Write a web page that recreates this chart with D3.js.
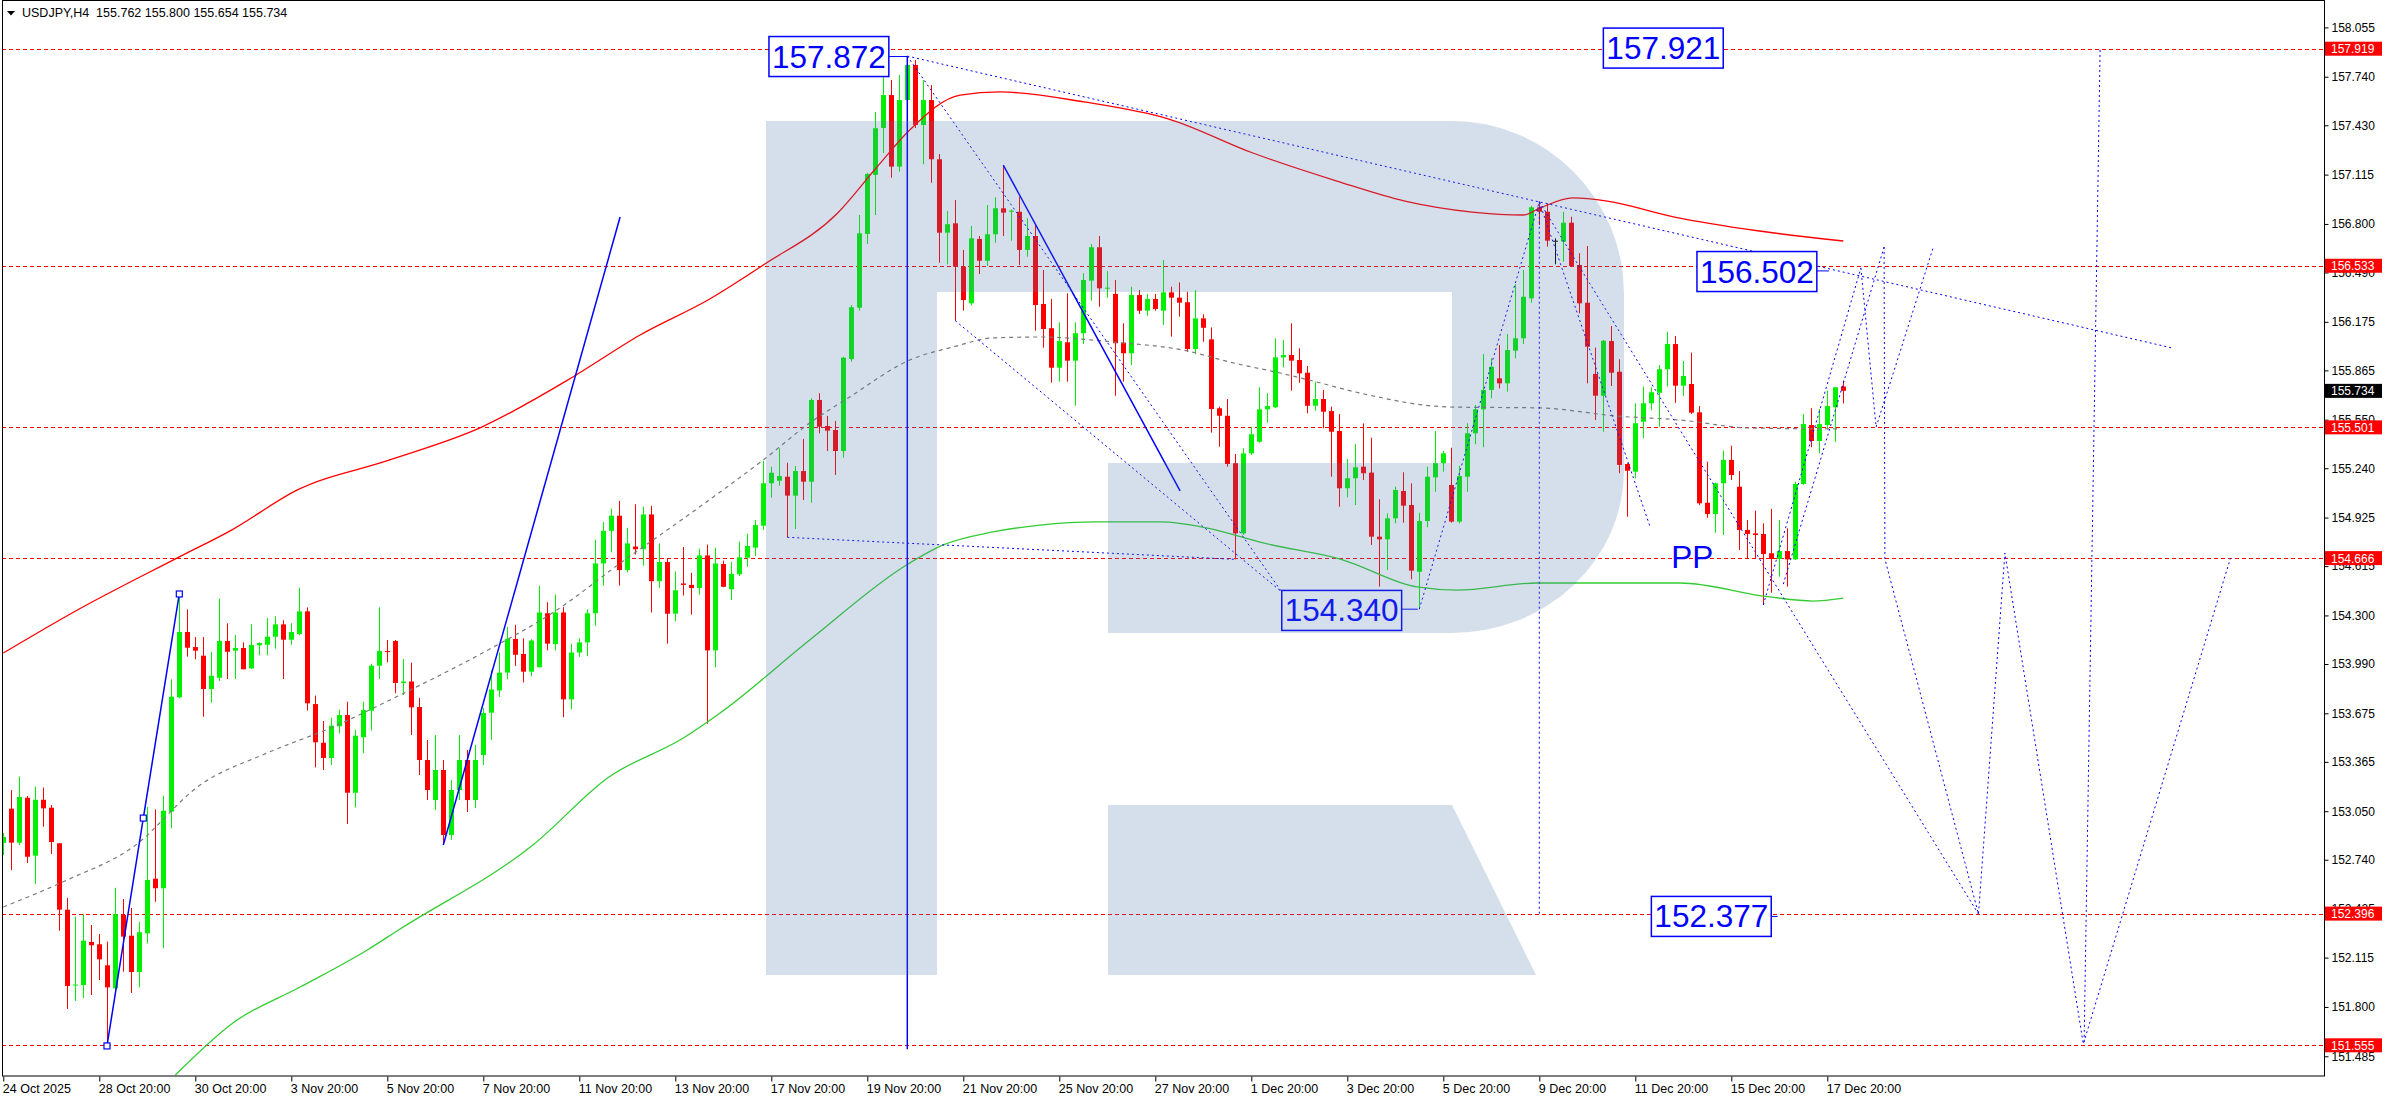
<!DOCTYPE html>
<html lang="en">
<head>
<meta charset="UTF-8">
<title>USDJPY,H4</title>
<script src="https://cdn.jsdelivr.net/npm/d3@7"></script>
<style>
  body { margin: 0; background: #fff; }
  text { font-family: "Liberation Sans", Arial, sans-serif; }
</style>
</head>
<body>
<script>
// OHLC of the H4 bars, oldest first (24 Oct 20:00 ... 18 Dec 04:00)
const opens = [152.847,153.066,152.849,153.136,152.766,153.123,153.072,152.845,152.421,151.937,151.940,152.215,152.200,152.066,151.919,152.387,152.255,152.023,152.270,152.619,
152.558,153.047,153.777,154.194,154.098,154.043,153.830,153.902,154.137,154.075,154.092,153.962,154.109,154.113,154.164,154.243,154.145,154.181,154.326,153.734,
153.487,153.390,153.592,153.664,153.168,153.522,153.692,153.979,154.073,154.137,153.869,153.878,153.715,153.377,153.121,153.313,152.898,153.185,153.377,153.121,
153.409,153.679,153.821,153.935,154.150,154.054,153.941,153.969,154.314,154.117,154.319,153.764,154.063,154.128,154.314,154.632,154.840,154.937,154.590,154.740,
154.723,154.945,154.519,154.641,154.311,154.504,154.495,154.475,154.683,154.077,154.628,154.467,154.563,154.669,154.733,154.873,155.144,155.160,155.186,155.065,
155.222,155.154,155.676,155.510,155.484,155.350,155.937,156.265,156.736,157.113,157.413,157.623,157.166,157.591,157.815,157.432,157.591,157.213,156.744,156.804,
156.527,156.293,156.704,156.565,156.734,156.900,156.878,156.878,156.634,156.723,156.289,156.134,155.882,156.044,155.927,156.102,156.438,156.651,156.387,156.353,
156.042,155.974,156.346,156.246,156.321,156.246,156.363,156.329,156.300,156.001,156.197,156.063,155.623,155.575,155.272,154.824,155.335,155.409,155.616,155.629,
155.948,155.963,155.931,155.850,155.639,155.682,155.605,155.478,155.112,155.176,155.250,155.212,154.803,154.786,154.920,155.095,155.005,154.579,154.903,155.182,
155.272,155.133,154.899,155.186,155.463,155.616,155.740,155.814,155.782,155.991,156.070,156.325,156.906,156.878,156.693,156.687,156.808,156.538,156.297,155.842,
155.703,156.052,155.856,155.267,155.218,155.537,155.655,155.722,155.872,156.033,155.767,155.778,155.597,155.020,154.948,155.144,155.293,155.122,154.846,154.824,
154.820,154.697,154.660,154.711,154.658,155.139,155.516,155.414,155.516,155.629,155.762];
const highs = [152.911,153.185,153.270,153.147,153.206,153.200,153.089,152.847,152.496,152.376,152.393,152.323,152.266,152.217,152.561,152.489,152.432,152.344,153.077,153.062,
153.149,153.892,154.437,154.339,154.162,154.162,154.067,154.407,154.250,154.175,154.128,154.243,154.128,154.284,154.294,154.269,154.250,154.477,154.352,153.788,
153.626,153.645,153.696,153.749,153.570,153.747,153.992,154.352,154.143,154.143,154.021,153.998,153.773,153.505,153.537,153.377,153.249,153.537,153.441,153.473,
153.709,153.949,154.063,154.226,154.240,154.154,154.148,154.490,154.384,154.433,154.353,154.120,154.154,154.339,154.783,154.897,154.982,155.031,154.860,155.010,
154.994,155.000,154.760,154.666,154.581,154.737,154.572,154.726,154.752,154.733,154.650,154.643,154.771,154.820,154.909,155.288,155.250,155.367,155.275,155.254,
155.427,155.687,155.719,155.574,155.542,155.952,156.282,156.857,157.127,157.515,157.751,157.719,157.751,157.872,157.847,157.719,157.687,157.247,156.883,156.953,
156.634,156.787,156.723,156.921,156.970,157.176,156.893,156.974,156.836,156.793,156.506,156.321,156.172,156.357,156.172,156.485,156.672,156.723,156.499,156.442,
156.166,156.399,156.378,156.351,156.353,156.570,156.399,156.427,156.367,156.378,156.223,156.140,155.633,155.682,155.331,155.367,155.505,155.757,155.719,156.070,
156.059,156.166,156.006,155.893,155.793,155.740,155.633,155.586,155.299,155.395,155.527,155.435,155.042,154.952,155.122,155.214,155.144,154.956,155.250,155.478,
155.350,155.371,155.256,155.527,155.644,155.969,155.942,156.027,156.097,156.415,156.506,156.916,156.942,156.932,156.708,156.878,156.846,156.613,156.659,156.010,
156.059,156.148,155.936,155.272,155.655,155.761,155.757,155.899,156.112,156.084,155.925,155.978,155.637,155.282,155.148,155.352,155.384,155.222,154.909,154.969,
154.888,154.980,154.909,154.856,155.154,155.586,155.623,155.618,155.735,155.757,155.800];
const lows = [152.770,152.674,152.834,152.719,152.585,152.951,152.777,152.287,151.787,151.838,151.857,151.876,151.972,151.551,151.908,152.025,151.889,151.925,152.206,152.472,
152.174,152.941,153.771,154.037,154.020,153.653,153.743,153.881,153.894,153.894,153.956,153.958,154.046,154.046,154.088,153.894,154.113,154.173,153.692,153.330,
153.313,153.345,153.547,152.968,153.075,153.420,153.564,153.894,154.001,153.803,153.792,153.536,153.281,153.121,153.058,152.834,152.866,153.121,153.045,153.070,
153.345,153.505,153.779,153.892,153.978,153.872,153.912,153.969,154.077,154.077,153.650,153.701,154.035,154.040,154.234,154.490,154.703,154.490,154.575,154.689,
154.618,154.319,154.476,154.120,154.263,154.427,154.305,154.433,153.608,153.969,154.480,154.399,154.552,154.611,154.680,154.846,155.052,155.128,154.799,154.852,
155.037,155.020,155.463,155.350,155.197,155.307,155.920,156.246,156.672,156.857,157.253,157.095,157.134,157.432,157.413,157.181,157.063,156.552,156.542,156.182,
156.246,156.280,156.480,156.531,156.680,156.723,156.693,156.538,156.591,156.118,156.010,155.786,155.793,155.793,155.639,156.033,156.310,156.271,156.329,155.703,
155.793,155.899,156.225,156.214,156.246,156.155,156.080,156.208,155.984,155.968,156.048,155.467,155.377,155.250,154.658,154.814,155.325,155.403,155.531,155.623,
155.885,155.735,155.786,155.591,155.607,155.495,155.186,154.994,155.054,155.005,155.165,154.750,154.484,154.590,154.888,154.892,154.531,154.340,154.863,155.090,
155.218,154.892,154.888,155.090,155.393,155.374,155.687,155.750,155.729,155.942,156.033,156.297,156.793,156.655,156.542,156.559,156.527,156.229,155.782,155.548,
155.473,155.765,155.208,154.930,155.176,155.431,155.612,155.505,155.761,155.657,155.701,155.586,155.005,154.924,154.828,154.814,155.165,154.718,154.665,154.665,
154.367,154.445,154.547,154.484,154.654,155.133,155.374,155.335,155.489,155.409,155.654];
const closes = [152.885,152.849,153.141,152.759,153.123,153.068,152.853,152.421,151.934,151.943,152.223,152.194,152.104,151.925,152.392,152.249,152.023,152.277,152.611,152.558,
153.053,153.781,154.194,154.094,154.075,153.830,153.915,154.137,154.068,154.092,153.956,154.111,154.124,154.164,154.243,154.145,154.194,154.326,153.739,153.490,
153.390,153.596,153.664,153.168,153.532,153.696,153.979,154.073,154.066,153.869,153.878,153.713,153.377,153.185,153.313,152.898,153.185,153.377,153.121,153.377,
153.677,153.827,153.935,154.150,154.049,153.941,154.140,154.319,154.120,154.319,153.764,154.063,154.128,154.314,154.632,154.840,154.937,154.590,154.760,154.723,
154.945,154.519,154.641,154.311,154.461,154.495,154.475,154.683,154.077,154.632,154.483,154.565,154.671,154.743,154.877,155.144,155.211,155.190,155.065,155.222,
155.154,155.676,155.505,155.480,155.350,155.946,156.268,156.740,157.119,157.411,157.623,157.166,157.591,157.815,157.432,157.591,157.213,156.744,156.798,156.527,
156.314,156.708,156.565,156.734,156.900,156.872,156.885,156.634,156.723,156.282,156.129,155.882,156.052,155.927,156.102,156.442,156.651,156.389,156.393,156.038,
155.974,156.346,156.246,156.321,156.257,156.363,156.329,156.297,156.001,156.197,156.137,155.618,155.575,155.267,154.824,155.335,155.457,155.616,155.637,155.948,
155.963,155.927,155.846,155.639,155.682,155.601,155.473,155.112,155.176,155.246,155.208,154.803,154.786,154.920,155.101,155.001,154.586,154.903,155.186,155.272,
155.335,154.899,155.190,155.463,155.616,155.740,155.888,155.782,155.995,156.070,156.335,156.906,156.878,156.693,156.693,156.808,156.531,156.293,156.016,155.703,
156.054,155.850,155.261,155.224,155.527,155.655,155.725,155.872,156.033,155.767,155.829,155.595,155.016,154.948,155.144,155.293,155.197,154.846,154.820,154.814,
154.692,154.660,154.711,154.658,155.139,155.522,155.414,155.522,155.637,155.757,155.734];

// right price scale and time scale labels
const priceTicks = [158.055,157.740,157.430,157.115,156.800,156.490,156.175,155.865,155.550,155.240,154.925,
                    154.615,154.300,153.990,153.675,153.365,153.050,152.740,152.425,152.115,151.800,151.485];
const dateLabels = ["24 Oct 2025","28 Oct 20:00","30 Oct 20:00","3 Nov 20:00","5 Nov 20:00","7 Nov 20:00",
                    "11 Nov 20:00","13 Nov 20:00","17 Nov 20:00","19 Nov 20:00","21 Nov 20:00","25 Nov 20:00",
                    "27 Nov 20:00","1 Dec 20:00","3 Dec 20:00","5 Dec 20:00","9 Dec 20:00","11 Dec 20:00",
                    "15 Dec 20:00","17 Dec 20:00"];
const barsPerLabel = 12;

// horizontal levels (red dotted) and the current price
const levels = [157.919, 156.533, 155.501, 154.666, 152.396, 151.555];
const lastPrice = 155.734;

// moving averages: [bar, price]
const maRed = [[0,154.060],[9.1,154.330],[21.7,154.666],[28.7,154.850],[36.7,155.100],[48.3,155.293],[59.8,155.503],
  [71.2,155.823],[79.6,156.091],[88.3,156.321],[95,156.538],[104.3,156.870],[109.1,157.157],[113.3,157.400],[119.6,157.623],[124.6,157.643],
  [135.1,157.579],[145.7,157.470],[156.2,157.253],[166.7,157.074],[175.2,156.946],[183.6,156.876],[190,156.857],
  [192.1,156.902],[196.2,156.966],[200.5,156.946],[208.9,156.844],[219.5,156.755],[230,156.691]];
const maGreen = [[21.5,151.365],[28.7,151.698],[37.1,151.927],[45.5,152.164],[49.6,152.298],[66.2,152.834],[75.7,153.268],
  [85,153.517],[89.6,153.677],[100.8,154.143],[112.9,154.622],[117.5,154.750],[123.7,154.833],[129.6,154.877],[136.7,154.897],
  [144.6,154.897],[150.5,154.858],[157.5,154.763],[167.5,154.654],[176.7,154.482],[181.7,154.462],[191.7,154.507],
  [209.6,154.507],[220.8,154.418],[226.2,154.392],[230,154.411]];
const maGrey = [[0,152.438],[8,152.611],[16.2,152.821],[24.6,153.217],[33,153.422],[41.2,153.588],[49.6,153.792],[60,154.063],
  [69.2,154.335],[77.5,154.648],[83.7,154.871],[89.6,155.088],[95,155.293],[100.8,155.529],[105.8,155.695],[113.3,155.931],
  [118.7,156.014],[123.7,156.072],[129.6,156.078],[138.7,156.046],[148,155.989],[153.3,155.918],[159.6,155.848],
  [163.7,155.797],[169.6,155.720],[180.8,155.631],[192.1,155.625],[201.7,155.573],[209.6,155.548],[218.3,155.497],[229.6,155.491]];

// analyst drawings: [bar, price]
const solidLines = [
  [[12.96,151.551],[17.5,153.006],[22,154.437]],
  [[55,152.834],[77.1,156.844]],
  [[125,157.176],[147.1,155.095]],
  [[113,157.872],[113,151.53]]
];
const anchorSquares = [[12.96,151.551],[17.5,153.006],[22,154.437]];
const dottedLines = [
  [[113,157.872],[271.1,156.008]],
  [[113,157.872],[159.8,154.45]],
  [[119,156.182],[159.8,154.45]],
  [[98,154.799],[154,154.658]],
  [[177,154.340],[192,156.942]],
  [[192,156.942],[192,152.377]],
  [[192,156.942],[246.9,152.393]],
  [[192,156.942],[205.9,154.858]],
  [[220,154.367],[232.2,156.519]],
  [[222.5,154.50],[235.1,156.653]],
  [[232.2,156.519],[234.1,155.503],[241.3,156.659]],
  [[235.1,156.653],[235.2,154.660],[246.9,152.393],[250.2,154.699],[260,151.563],[278.4,154.667]],
  [[262.1,157.911],[260.1,151.563]]
];
// boxed price notes: text, box centre [bar, price], connector end [bar, price]
const notes = [
  {text: "157.872", at: [103.2, 157.869], to: [113, 157.869]},
  {text: "157.921", at: [207.5, 157.923], to: null},
  {text: "156.502", at: [219.2, 156.496], to: [228.2, 156.50]},
  {text: "154.340", at: [167.3, 154.332], to: [176.8, 154.340]},
  {text: "152.377", at: [213.5, 152.378], to: [221.8, 152.378]}
];
const ppLabel = {text: "PP", at: [208.5, 154.603]};

const w = 2388;
const h = 1100;
const plotL = 2, plotT = 1, plotR = 2324, plotB = 1076;

const xScale = d3.scaleLinear().domain([0, 290]).range([3.3, 3.3 + 290 * 8]);
const yScale = d3.scaleLinear().domain([158.230, 151.365]).range([0, 1075.06]);

const svg = d3.select("body")
              .append("svg")
              .attr("width", w)
              .attr("height", h)
              .style("display", "block")
              .style("background", "#fff");

svg.append("clipPath").attr("id", "plot")
   .append("rect")
   .attr("x", plotL).attr("y", plotT)
   .attr("width", plotR - plotL).attr("height", plotB - plotT);

const chart = svg.append("g").attr("clip-path", "url(#plot)");

// red dotted levels
chart.selectAll("line.level")
     .data(levels)
     .enter()
     .append("line")
     .attr("class", "level")
     .attr("x1", plotL).attr("x2", plotR)
     .attr("y1", d => Math.round(yScale(d)) + 0.5)
     .attr("y2", d => Math.round(yScale(d)) + 0.5)
     .attr("stroke", "#ff0000")
     .attr("stroke-dasharray", "4,3");

// candles
const bars = d3.range(opens.length).map(i => ({i, o: opens[i], h: highs[i], l: lows[i], c: closes[i]}));
const colour = d => d.c > d.o ? "#00f000" : (d.c < d.o ? "#ff0000" : "#000000");

const candle = chart.selectAll("g.bar")
                    .data(bars)
                    .enter()
                    .append("g")
                    .attr("class", "bar");

candle.append("line")
      .attr("x1", d => Math.round(xScale(d.i)) + 0.5)
      .attr("x2", d => Math.round(xScale(d.i)) + 0.5)
      .attr("y1", d => yScale(d.h))
      .attr("y2", d => yScale(d.l))
      .attr("stroke", colour)
      .attr("stroke-width", 1);

candle.append("rect")
      .attr("x", d => Math.round(xScale(d.i)) - 2)
      .attr("width", 5)
      .attr("y", d => yScale(Math.max(d.o, d.c)))
      .attr("height", d => Math.max(1, yScale(Math.min(d.o, d.c)) - yScale(Math.max(d.o, d.c))))
      .attr("fill", colour);

// moving averages
const maLine = d3.line()
                 .x(d => xScale(d[0]))
                 .y(d => yScale(d[1]))
                 .curve(d3.curveMonotoneX);

chart.append("path").attr("d", maLine(maRed))
     .attr("fill", "none").attr("stroke", "#ff0000").attr("stroke-width", 1.3);
chart.append("path").attr("d", maLine(maGreen))
     .attr("fill", "none").attr("stroke", "#33cc33").attr("stroke-width", 1.3);
chart.append("path").attr("d", maLine(maGrey))
     .attr("fill", "none").attr("stroke", "#7a7a7a").attr("stroke-width", 1.2)
     .attr("stroke-dasharray", "4,4");

// drawings
const segLine = d3.line().x(d => xScale(d[0])).y(d => yScale(d[1]));

chart.selectAll("path.solid")
     .data(solidLines)
     .enter()
     .append("path")
     .attr("class", "solid")
     .attr("d", segLine)
     .attr("fill", "none")
     .attr("stroke", "#0000ff")
     .attr("stroke-width", 1.5);

chart.selectAll("path.dotted")
     .data(dottedLines)
     .enter()
     .append("path")
     .attr("class", "dotted")
     .attr("d", segLine)
     .attr("fill", "none")
     .attr("stroke", "#0000ff")
     .attr("stroke-width", 1)
     .attr("stroke-dasharray", "2,3");

chart.selectAll("rect.anchor")
     .data(anchorSquares)
     .enter()
     .append("rect")
     .attr("class", "anchor")
     .attr("x", d => xScale(d[0]) - 3)
     .attr("y", d => yScale(d[1]) - 3)
     .attr("width", 6).attr("height", 6)
     .attr("fill", "#fff")
     .attr("stroke", "#0000ff")
     .attr("stroke-width", 1.2);

// boxed notes
notes.forEach(n => {
  const g = chart.append("g");
  const cx = xScale(n.at[0]), cy = yScale(n.at[1]);
  const t = g.append("text")
             .attr("x", cx).attr("y", cy + 11)
             .attr("text-anchor", "middle")
             .attr("font-size", 31.5)
             .attr("fill", "#0000ff")
             .text(n.text);
  const tw = t.node().getComputedTextLength();
  const bw = tw + 6, bh = 40;
  g.insert("rect", "text")
   .attr("x", cx - bw / 2).attr("y", cy - bh / 2)
   .attr("width", bw).attr("height", bh)
   .attr("fill", "#fff")
   .attr("stroke", "#0000ff")
   .attr("stroke-width", 1.5);
  if (n.to) {
    g.append("line")
     .attr("x1", cx + bw / 2).attr("y1", yScale(n.to[1]))
     .attr("x2", xScale(n.to[0])).attr("y2", yScale(n.to[1]))
     .attr("stroke", "#0000ff").attr("stroke-width", 1);
  }
});

chart.append("text")
     .attr("x", xScale(ppLabel.at[0]))
     .attr("y", yScale(ppLabel.at[1]))
     .attr("font-size", 31.5)
     .attr("fill", "#0000ff")
     .text(ppLabel.text);

// watermark overlay (drawn over everything, translucent)
const mark = "M766,121H1452A172,173 0 0 1 1624,294V470A172,163 0 0 1 1452,633H1108V463H1452V292H937V975H766Z" +
             "M1108,805H1452L1536,975H1108Z";
chart.append("path")
     .attr("d", mark)
     .attr("fill", "rgba(77,119,170,0.235)");

// frame
svg.append("rect")
   .attr("x", plotL + 0.5).attr("y", plotT - 0.5)
   .attr("width", plotR - plotL).attr("height", plotB - plotT + 0.5)
   .attr("fill", "none").attr("stroke", "#000");

// price axis
const yAxis = d3.axisRight(yScale)
                .tickValues(priceTicks)
                .tickSize(4)
                .tickFormat(d3.format(".3f"));
const ya = svg.append("g")
              .attr("transform", "translate(" + (plotR + 0.5) + ",0)")
              .call(yAxis);
ya.select(".domain").remove();
ya.selectAll("text").attr("font-size", 12).attr("font-family", "Liberation Sans, Arial, sans-serif").attr("fill", "#000");

// time axis
const xAxis = d3.axisBottom(xScale)
                .tickValues(dateLabels.map((d, i) => i * barsPerLabel))
                .tickSize(5)
                .tickFormat((d, i) => dateLabels[i]);
const xa = svg.append("g")
              .attr("transform", "translate(0," + (plotB + 0.5) + ")")
              .call(xAxis);
xa.select(".domain").remove();
xa.selectAll("text").attr("font-size", 12.5).attr("font-family", "Liberation Sans, Arial, sans-serif")
  .attr("fill", "#000").attr("text-anchor", "start").attr("x", -1);

// red level tags and current price tag
const tags = levels.map(v => ({v, bg: "#ff0000"})).concat([{v: lastPrice, bg: "#000000"}]);
const tag = svg.selectAll("g.tag").data(tags).enter().append("g").attr("class", "tag");
tag.append("rect")
   .attr("x", plotR + 1).attr("width", 57)
   .attr("y", d => yScale(d.v) - 7).attr("height", 14)
   .attr("fill", d => d.bg);
tag.append("text")
   .attr("x", plotR + 7).attr("y", d => yScale(d.v) + 4.5)
   .attr("font-size", 12).attr("fill", "#fff")
   .text(d => d3.format(".3f")(d.v));

// header
svg.append("path").attr("d", "M7,11H15L11,15.5Z").attr("fill", "#000");
svg.append("text")
   .attr("x", 22).attr("y", 17)
   .attr("font-size", 12.5)
   .attr("fill", "#000")
   .style("white-space", "pre")
   .text("USDJPY,H4  " + [opens[opens.length - 1], highs[highs.length - 1], lows[lows.length - 1], closes[closes.length - 1]].map(d3.format(".3f")).join(" "));
</script>
</body>
</html>
